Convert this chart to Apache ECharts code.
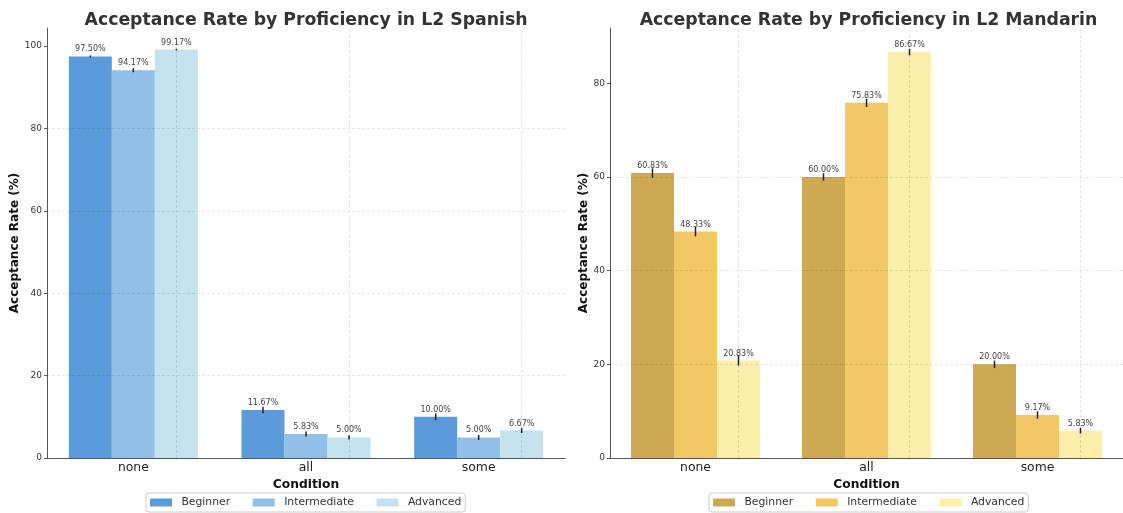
<!DOCTYPE html>
<html>
<head>
<meta charset="utf-8">
<script src="https://cdn.jsdelivr.net/npm/echarts@6/dist/echarts.min.js"></script>
<style>
html,body{margin:0;padding:0;background:#fff;}
#c{width:1123px;height:513px;}
</style>
</head>
<body>
<div id="c"></div>
<script>
const categories = ['none', 'all', 'some'];
const levels = ['Beginner', 'Intermediate', 'Advanced'];

const spanishBeginner = [97.50, 11.67, 10.00];
const spanishIntermediate = [94.17, 5.83, 5.00];
const spanishAdvanced = [99.17, 5.00, 6.67];
const spanishBeginnerErr = [0.25, 0.8, 0.8];
const spanishIntermediateErr = [0.5, 0.6, 0.6];
const spanishAdvancedErr = [0.2, 0.5, 0.6];

const mandarinBeginner = [60.83, 60.00, 20.00];
const mandarinIntermediate = [48.33, 75.83, 9.17];
const mandarinAdvanced = [20.83, 86.67, 5.83];
const mandarinBeginnerErr = [1.0, 0.8, 0.8];
const mandarinIntermediateErr = [1.0, 0.9, 0.8];
const mandarinAdvancedErr = [1.1, 0.7, 0.6];

const spanishTicks = [0, 20, 40, 60, 80, 100];
const mandarinTicks = [0, 20, 40, 60, 80];

const spanishColors = ['#5b9bd9', '#92bfe7', '#c5e3ee'];
const mandarinColors = ['#cda952', '#f2c864', '#feeeab'];

const FONT = 'DejaVu Sans';
const BAR_W = 43;

const panels = [
  { title: 'Acceptance Rate by Proficiency in L2 Spanish', left: 47, width: 518, max: 104.4,
    vals: [spanishBeginner, spanishIntermediate, spanishAdvanced],
    errs: [spanishBeginnerErr, spanishIntermediateErr, spanishAdvancedErr],
    colors: spanishColors, ticks: spanishTicks, nameGap: 23, legendLeft: 146 },
  { title: 'Acceptance Rate by Proficiency in L2 Mandarin', left: 610, width: 517, max: 91.8,
    vals: [mandarinBeginner, mandarinIntermediate, mandarinAdvanced],
    errs: [mandarinBeginnerErr, mandarinIntermediateErr, mandarinAdvancedErr],
    colors: mandarinColors, ticks: mandarinTicks, nameGap: 17.5, legendLeft: 709 }
];

const grid = [], xAxis = [], yAxis = [], series = [], legend = [], graphic = [];

panels.forEach((p, gi) => {
  grid.push({ left: p.left, width: p.width, top: 28, height: 430, containLabel: false });
  xAxis.push({
    type: 'category', gridIndex: gi, data: categories,
    name: 'Condition', nameLocation: 'middle', nameGap: 11,
    nameTextStyle: { fontFamily: FONT, fontWeight: 'bold', fontSize: 12.3, color: '#111' },
    axisLine: { lineStyle: { color: '#555', width: 1 } },
    axisTick: { alignWithLabel: true, length: 3, lineStyle: { color: '#555' } },
    axisLabel: { fontFamily: FONT, fontSize: 12.4, color: '#222', margin: 4 },
    splitLine: { show: false }
  });
  yAxis.push({
    type: 'value', gridIndex: gi, min: 0, max: p.max, interval: 20, z: 10,
    name: 'Acceptance Rate (%)', nameLocation: 'middle', nameGap: p.nameGap,
    nameTextStyle: { fontFamily: FONT, fontWeight: 'bold', fontSize: 12, color: '#111' },
    axisLine: { show: true, lineStyle: { color: '#555', width: 1 } },
    axisTick: { show: true, length: 3, lineStyle: { color: '#555' }, customValues: p.ticks },
    axisLabel: { fontFamily: FONT, fontSize: 9, color: '#333', margin: 5,
      showMaxLabel: false,
      formatter: v => (p.ticks.indexOf(v) >= 0 ? String(v) : '') },
    splitLine: { show: true, showMaxLine: false, showMinLine: false,
      lineStyle: { color: 'rgba(0,0,0,0.12)', width: 0.8, type: [3, 2] } }
  });
  legend.push({
    data: levels.map(l => l + '\u200b'.repeat(gi)),
    left: p.legendLeft, top: 493, orient: 'horizontal',
    itemWidth: 22, itemHeight: 8, itemGap: 22.7,
    padding: [4, 4], borderColor: '#ccc', borderWidth: 1, borderRadius: 3,
    icon: 'rect',
    textStyle: { fontFamily: FONT, fontSize: 10.8, color: '#333', padding: [0, 0, 0, 4.4] }
  });
  graphic.push({
    type: 'text', x: p.left + p.width / 2, y: 12,
    style: { text: p.title, font: 'bold 17.3px "DejaVu Sans"', fill: '#333', textAlign: 'center', textVerticalAlign: 'top' }
  });

  levels.forEach((lvl, k) => {
    const s = {
      name: lvl + '\u200b'.repeat(gi), type: 'bar', xAxisIndex: gi, yAxisIndex: gi,
      data: p.vals[k], barWidth: BAR_W, barGap: '0%',
      itemStyle: { color: p.colors[k] },
      label: { show: true, position: 'top', distance: 3, fontFamily: FONT, fontSize: 8, color: '#444',
        formatter: d => d.value.toFixed(2) + '%' },
      z: 2
    };
    if (k === 2) {
      s.markLine = {
        silent: true, symbol: 'none', label: { show: false }, z: 6,
        lineStyle: { color: 'rgba(0,0,0,0.14)', width: 0.8, type: [3, 2] },
        data: categories.map(c => ({ xAxis: c }))
      };
    }
    series.push(s);
    series.push({
      type: 'custom', xAxisIndex: gi, yAxisIndex: gi, z: 5, silent: true,
      data: categories.map((c, i) => [i, p.vals[k][i], p.errs[k][i]]),
      encode: { x: 0, y: 1 },
      renderItem: (params, api) => {
        const x = api.value(0), v = api.value(1), e = api.value(2);
        const a = api.coord([x, v + e]);
        const b = api.coord([x, v - e]);
        const off = (k - 1) * BAR_W;
        return { type: 'line', shape: { x1: a[0] + off, y1: a[1], x2: a[0] + off, y2: b[1] },
          style: { stroke: '#222', lineWidth: 1.5 } };
      }
    });
  });
});

const chart = echarts.init(document.getElementById('c'), null, { renderer: 'canvas' });
chart.setOption({
  animation: false,
  backgroundColor: '#fff',
  textStyle: { fontFamily: FONT },
  grid, xAxis, yAxis, series, legend, graphic
});
</script>
</body>
</html>
